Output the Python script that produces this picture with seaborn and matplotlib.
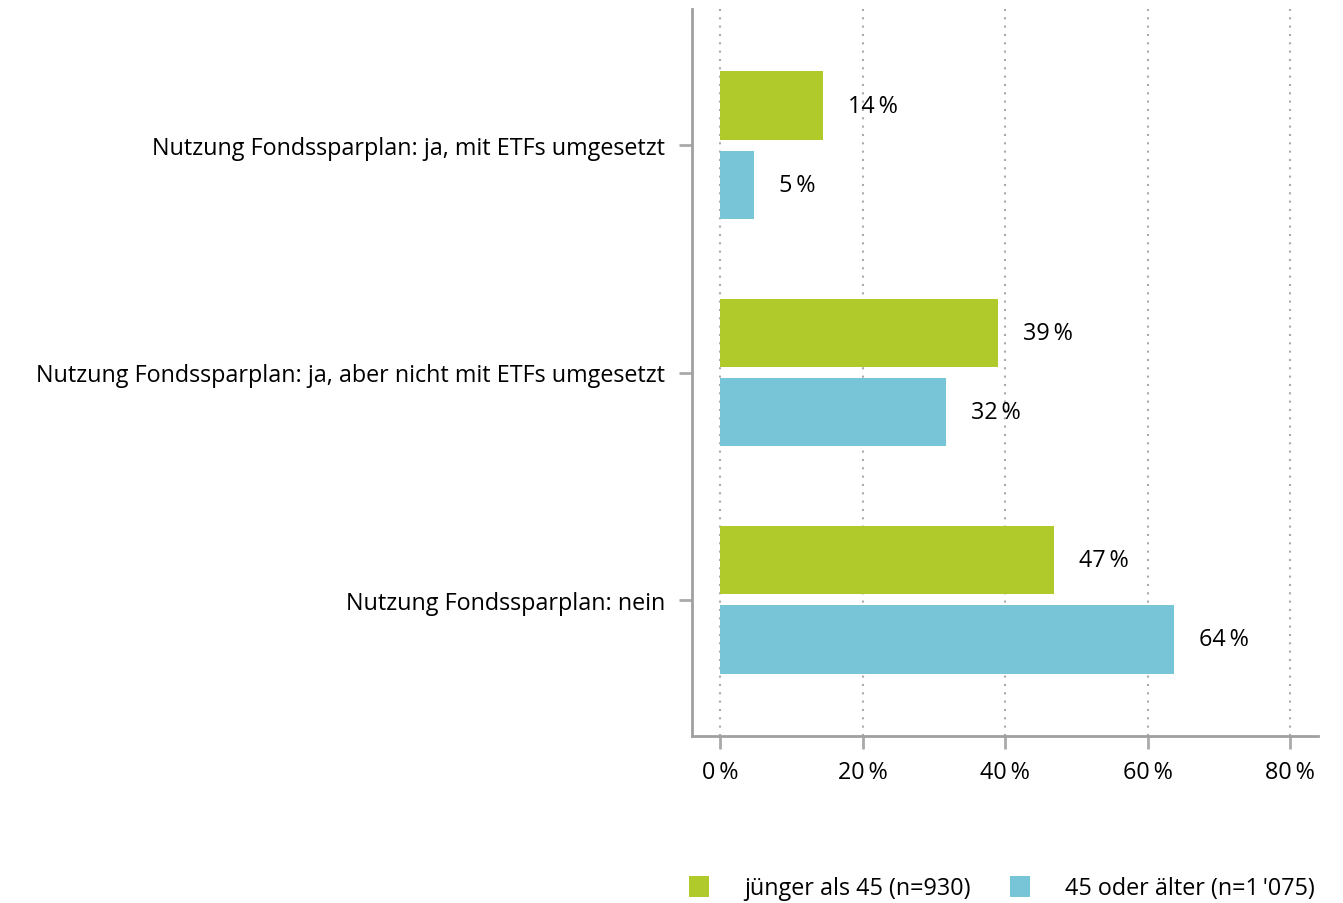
import matplotlib
matplotlib.use("Agg")
import matplotlib.pyplot as plt
import seaborn as sns
import pandas as pd
from matplotlib.patches import Patch

categories = [
    "Nutzung Fondssparplan: ja, mit ETFs umgesetzt",
    "Nutzung Fondssparplan: ja, aber nicht mit ETFs umgesetzt",
    "Nutzung Fondssparplan: nein",
]
series_names = ["jünger als 45 (n=930)", "45 oder älter (n=1\u2009'075)"]
young = [14.4, 39.0, 46.9]
old = [4.8, 31.7, 63.7]
young_labels = ["14\u2009%", "39\u2009%", "47\u2009%"]
old_labels = ["5\u2009%", "32\u2009%", "64\u2009%"]
xticks = [0, 20, 40, 60, 80]
xticklabels = ["0\u2009%", "20\u2009%", "40\u2009%", "60\u2009%", "80\u2009%"]
colors = ["#AFCA2A", "#78C5D8"]

sns.set_style("white")
plt.rcParams["font.family"] = ["Open Sans", "DejaVu Sans"]
FS = 16.8

df = pd.DataFrame({
    "cat": categories * 2,
    "val": young + old,
    "grp": [series_names[0]] * 3 + [series_names[1]] * 3,
})

fig = plt.figure(figsize=(13.43, 9.04), dpi=100)
ax = fig.add_axes([692 / 1343, 1 - 737 / 904, (1318 - 692) / 1343, (737 - 10) / 904])

sns.barplot(data=df, y="cat", x="val", hue="grp", hue_order=series_names,
            order=categories, palette=colors, width=0.70, gap=0.14,
            saturation=1, orient="h", ax=ax, legend=False, errorbar=None,
            linewidth=0)

ax.set_xlim(-3.93, 83.9)
ax.set_ylim(2.6, -0.6)
ax.set_xticks(xticks)
ax.set_xticklabels(xticklabels, fontsize=FS)
ax.set_yticks(range(len(categories)))
ax.set_yticklabels(categories, fontsize=FS)
ax.set_xlabel("")
ax.set_ylabel("")
ax.tick_params(axis="both", direction="out", length=9.5, width=2, color="#aaaaaa",
               labelcolor="black", bottom=True, left=True)
ax.tick_params(axis="x", pad=8)
ax.tick_params(axis="y", pad=10)
for s in ["top", "right"]:
    ax.spines[s].set_visible(False)
for s in ["left", "bottom"]:
    ax.spines[s].set_color("#a0a0a0")
    ax.spines[s].set_linewidth(2)
ax.grid(axis="x", linestyle=(0, (1, 3)), color="#aaaaaa", linewidth=1.5)
ax.set_axisbelow(True)

for cont, labs in zip(ax.containers, [young_labels, old_labels]):
    for bar, lab in zip(cont, labs):
        w = bar.get_width()
        y = bar.get_y() + bar.get_height() / 2
        ax.annotate(lab, (w, y), xytext=(25, 0), textcoords="offset pixels",
                    ha="left", va="center", fontsize=FS, color="black")

handles = [Patch(facecolor=c, edgecolor="none") for c in colors]
fig.legend(handles, series_names, loc="lower center", bbox_to_anchor=(0.746, -0.02),
           ncol=2, frameon=False, fontsize=FS, handlelength=0.85, handleheight=1.0,
           handletextpad=1.5, columnspacing=1.7, labelcolor="black")

fig.savefig("out.png", dpi=100)
